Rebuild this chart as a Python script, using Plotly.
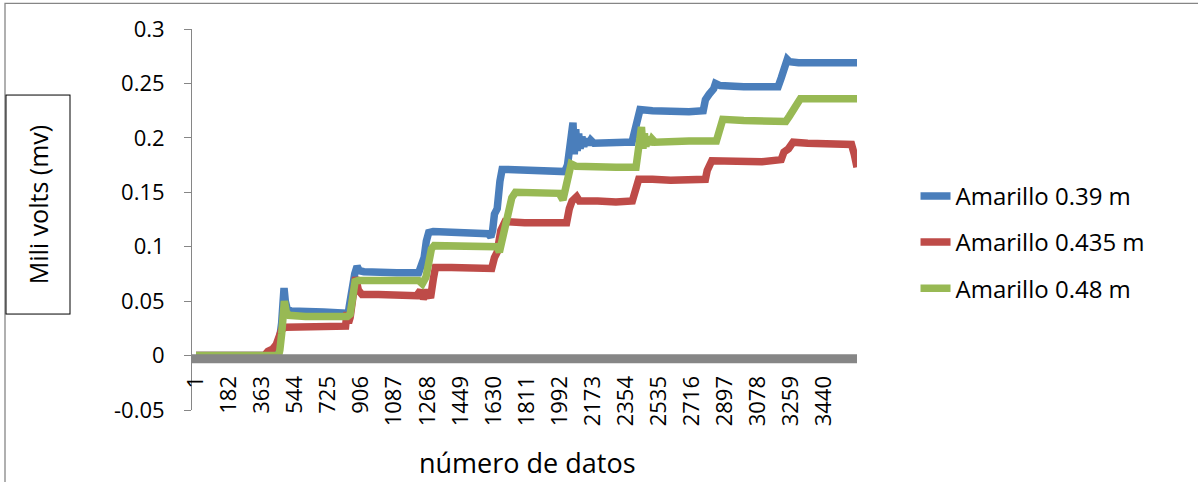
import plotly.graph_objects as go

# Sample index (número de datos) and voltage readings for each sensor position
blue_idx = [1, 440, 445, 460, 470, 478, 483, 490, 500, 520, 600, 700, 820, 833, 840, 850, 870, 883, 895, 920,
            1000, 1100, 1220, 1235, 1250, 1262, 1275, 1300, 1400, 1500, 1600, 1615, 1625, 1635, 1650, 1665, 1677,
            1700, 1800, 1900, 2020, 2035, 2050, 2065, 2072, 2080, 2088, 2096, 2104, 2114, 2124, 2135, 2148, 2162,
            2180, 2250, 2350, 2388, 2400, 2415, 2432, 2500, 2600, 2700, 2778, 2790, 2810, 2835, 2845, 2870, 3000,
            3100, 3188, 3205, 3220, 3238, 3250, 3300, 3400, 3500, 3620]
blue_mv = [0, 0, -0.002, 0.015, 0.03, 0.05, 0.062, 0.05, 0.043, 0.041, 0.040, 0.040, 0.039, 0.037, 0.045, 0.06,
           0.075, 0.082, 0.078, 0.077, 0.076, 0.076, 0.076, 0.082, 0.09, 0.105, 0.113, 0.114, 0.113, 0.113, 0.112,
           0.109, 0.115, 0.13, 0.135, 0.16, 0.171, 0.171, 0.170, 0.170, 0.169, 0.175, 0.19, 0.214, 0.185, 0.208,
           0.188, 0.204, 0.19, 0.201, 0.192, 0.199, 0.194, 0.198, 0.195, 0.196, 0.196, 0.196, 0.205, 0.22, 0.226,
           0.225, 0.224, 0.224, 0.225, 0.235, 0.24, 0.245, 0.25, 0.248, 0.247, 0.247, 0.247, 0.255, 0.262, 0.272,
           0.27, 0.269, 0.269, 0.269, 0.269]

red_idx = [1, 375, 395, 420, 440, 455, 470, 490, 600, 700, 820, 828, 836, 845, 855, 865, 875, 890, 910, 1000,
           1100, 1210, 1230, 1245, 1265, 1285, 1300, 1312, 1400, 1500, 1620, 1635, 1650, 1670, 1693, 1800, 1900,
           2030, 2045, 2060, 2085, 2100, 2200, 2300, 2390, 2405, 2425, 2500, 2600, 2790, 2800, 2825, 2900, 3000,
           3100, 3205, 3220, 3245, 3270, 3350, 3450, 3590, 3605, 3620]
red_mv = [0, 0, 0.004, 0.006, 0.01, 0.02, 0.024, 0.026, 0.026, 0.026, 0.027, 0.04, 0.03, 0.035, 0.05, 0.068,
          0.072, 0.06, 0.056, 0.056, 0.055, 0.055, 0.06, 0.052, 0.06, 0.053, 0.07, 0.081, 0.081, 0.080, 0.080,
          0.09, 0.095, 0.115, 0.123, 0.122, 0.122, 0.122, 0.135, 0.142, 0.146, 0.142, 0.142, 0.141, 0.142, 0.152,
          0.162, 0.162, 0.161, 0.162, 0.17, 0.179, 0.179, 0.178, 0.178, 0.180, 0.187, 0.19, 0.196, 0.195, 0.195,
          0.194, 0.185, 0.173]

green_idx = [1, 440, 450, 460, 470, 480, 485, 495, 510, 600, 700, 830, 845, 860, 872, 890, 1000, 1100, 1220,
             1240, 1260, 1275, 1290, 1305, 1400, 1500, 1650, 1662, 1680, 1695, 1710, 1730, 1750, 1850, 1990, 2010,
             2025, 2040, 2055, 2080, 2200, 2300, 2410, 2425, 2440, 2448, 2456, 2464, 2474, 2485, 2498, 2515, 2600,
             2700, 2850, 2870, 2885, 3000, 3100, 3230, 3250, 3270, 3290, 3310, 3450, 3620]
green_mv = [0, 0, -0.002, 0.005, 0.02, 0.04, 0.05, 0.04, 0.037, 0.036, 0.036, 0.036, 0.038, 0.055, 0.068, 0.069,
            0.069, 0.068, 0.069, 0.066, 0.072, 0.085, 0.098, 0.101, 0.101, 0.101, 0.100, 0.095, 0.11, 0.12, 0.13,
            0.145, 0.150, 0.150, 0.149, 0.143, 0.155, 0.17, 0.176, 0.174, 0.173, 0.173, 0.173, 0.19, 0.21, 0.19,
            0.204, 0.192, 0.201, 0.194, 0.199, 0.196, 0.197, 0.197, 0.197, 0.21, 0.217, 0.216, 0.215, 0.215, 0.22,
            0.225, 0.232, 0.236, 0.236, 0.236]

series_names = ["Amarillo 0.39 m", "Amarillo 0.435 m", "Amarillo 0.48 m"]
series_colors = ["#4A7EBB", "#BE4B48", "#98B954"]

x_tick_values = [1, 182, 363, 544, 725, 906, 1087, 1268, 1449, 1630, 1811, 1992, 2173, 2354, 2535, 2716,
                 2897, 3078, 3259, 3440]
x_tick_labels = [str(v) for v in x_tick_values]
y_tick_values = [-0.05, 0, 0.05, 0.1, 0.15, 0.2, 0.25, 0.3]
y_tick_labels = ["-0.05", "0", "0.05", "0.1", "0.15", "0.2", "0.25", "0.3"]

FONT = "Open Sans"
AXIS_GREY = "#868686"

fig = go.Figure()
for idx, vals, name, color in zip([blue_idx, red_idx, green_idx], [blue_mv, red_mv, green_mv],
                                  series_names, series_colors):
    fig.add_trace(go.Scatter(x=idx, y=vals, mode="lines", name=name, legendgroup=name,
                             line=dict(color=color, width=7.5, shape="linear")))

fig.update_layout(
    width=1198, height=482,
    margin=dict(l=192, r=341, t=29, b=72),
    paper_bgcolor="white", plot_bgcolor="white",
    font=dict(family=FONT, color="black"),
    showlegend=True,
    legend=dict(x=1.088, y=0.62, xanchor="left", yanchor="top", font=dict(size=24, family=FONT),
                traceorder="grouped", tracegroupgap=12, bgcolor="rgba(0,0,0,0)"),
    xaxis=dict(range=[-20.9, 3620], tickvals=x_tick_values, ticktext=x_tick_labels, tickangle=-90,
               anchor="free", position=0.05 / 0.35, showline=False, showgrid=False, zeroline=False,
               ticks="", ticklabelstandoff=15, tickfont=dict(size=22, family=FONT)),
    yaxis=dict(range=[-0.05, 0.3], tickvals=y_tick_values, ticktext=y_tick_labels, showgrid=False,
               zeroline=False, showline=True, linecolor=AXIS_GREY, linewidth=1, ticks="outside",
               ticklen=7, tickcolor=AXIS_GREY, ticklabelstandoff=15, tickfont=dict(size=22, family=FONT)),
    shapes=[
        # horizontal axis band at zero
        dict(type="rect", xref="x domain", yref="y", x0=0, x1=1, y0=-0.0071, y1=0.0012,
             fillcolor=AXIS_GREY, line=dict(width=0), layer="above"),
        # chart frame
        dict(type="rect", xref="paper", yref="paper", x0=-0.2812, x1=1.6, y0=-0.3, y1=1.0675,
             line=dict(color=AXIS_GREY, width=1.3), fillcolor="rgba(0,0,0,0)", layer="below"),
    ],
    annotations=[
        dict(text="Mili volts (mv)", textangle=-90, xref="paper", yref="paper", x=-0.2323, y=0.538,
             xanchor="center", yanchor="middle", showarrow=False, font=dict(size=25, family=FONT),
             bordercolor="black", borderwidth=1, borderpad=3, width=212, height=57, bgcolor="white"),
        dict(text="número de datos", xref="paper", yref="paper", x=0.505, y=-0.1365,
             xanchor="center", yanchor="middle", showarrow=False, font=dict(size=27, family=FONT)),
    ],
)

fig.write_html("out.html")
